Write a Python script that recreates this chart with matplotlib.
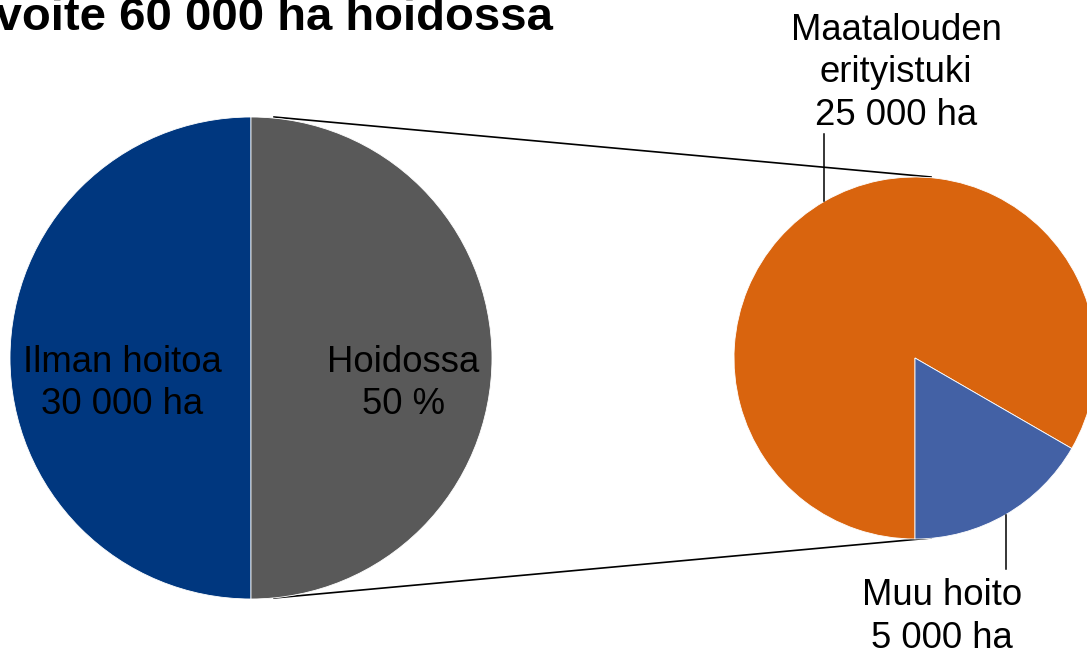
import matplotlib
matplotlib.use("Agg")
import matplotlib.pyplot as plt

# ---- data ----
title = "Tavoite 60 000 ha hoidossa"
main_labels = [["Ilman hoitoa", "30 000 ha"], ["Hoidossa", "50 %"]]
main_values = [30000, 30000]
main_colors = ["#00377F", "#595959"]

sub_labels = [["Maatalouden", "erityistuki", "25 000 ha"], ["Muu hoito", "5 000 ha"]]
sub_values = [25000, 5000]
sub_colors = ["#D9640E", "#4361A5"]

plt.rcParams['font.family'] = ['Liberation Sans', 'DejaVu Sans']

W, H = 1087, 650
fig = plt.figure(figsize=(W / 100, H / 100), dpi=100)
ax = fig.add_axes([0, 0, 1, 1])

def Y(y):
    return H - y

# main pie
c1 = (251, Y(358)); r1 = 241
ax.pie(main_values, colors=main_colors, startangle=90, counterclock=True,
       center=c1, radius=r1, frame=True,
       wedgeprops=dict(edgecolor="white", linewidth=0.6))

# sub pie
c2 = (915, Y(358)); r2 = 181
ax.pie(sub_values, colors=sub_colors, startangle=-30, counterclock=True,
       center=c2, radius=r2, frame=True,
       wedgeprops=dict(edgecolor="white", linewidth=0.6))

# connector lines
ax.plot([274, 931], [Y(117), Y(177)], color="black", lw=1.2, zorder=0.5)
ax.plot([274, 931], [Y(598), Y(538)], color="black", lw=1.2, zorder=0.5)

fs = 26.3
# main labels
for lines, x in zip(main_labels, [122, 403]):
    for i, t in enumerate(lines):
        ax.text(x, Y(372 + 41.5 * i), t, ha="center", va="baseline", fontsize=fs, color="black")

# sub labels with leader lines
sub_pos = [(896, 40), (942, 605)]
for lines, (x, yb) in zip(sub_labels, sub_pos):
    for i, t in enumerate(lines):
        ax.text(x, Y(yb + 42.5 * i), t, ha="center", va="baseline", fontsize=fs, color="black")

ax.plot([824, 824], [Y(134), Y(201)], color="black", lw=1.1)
ax.plot([1005.5, 1005.5], [Y(515), Y(569)], color="black", lw=1.1)

# title (partly outside the canvas, as in the reference)
ax.text(553, Y(30), title, ha="right", va="baseline", fontsize=34, fontweight="bold",
        color="black", clip_on=False)

ax.set_xlim(0, W)
ax.set_ylim(0, H)
ax.axis("off")
fig.savefig("out.png", dpi=100)
